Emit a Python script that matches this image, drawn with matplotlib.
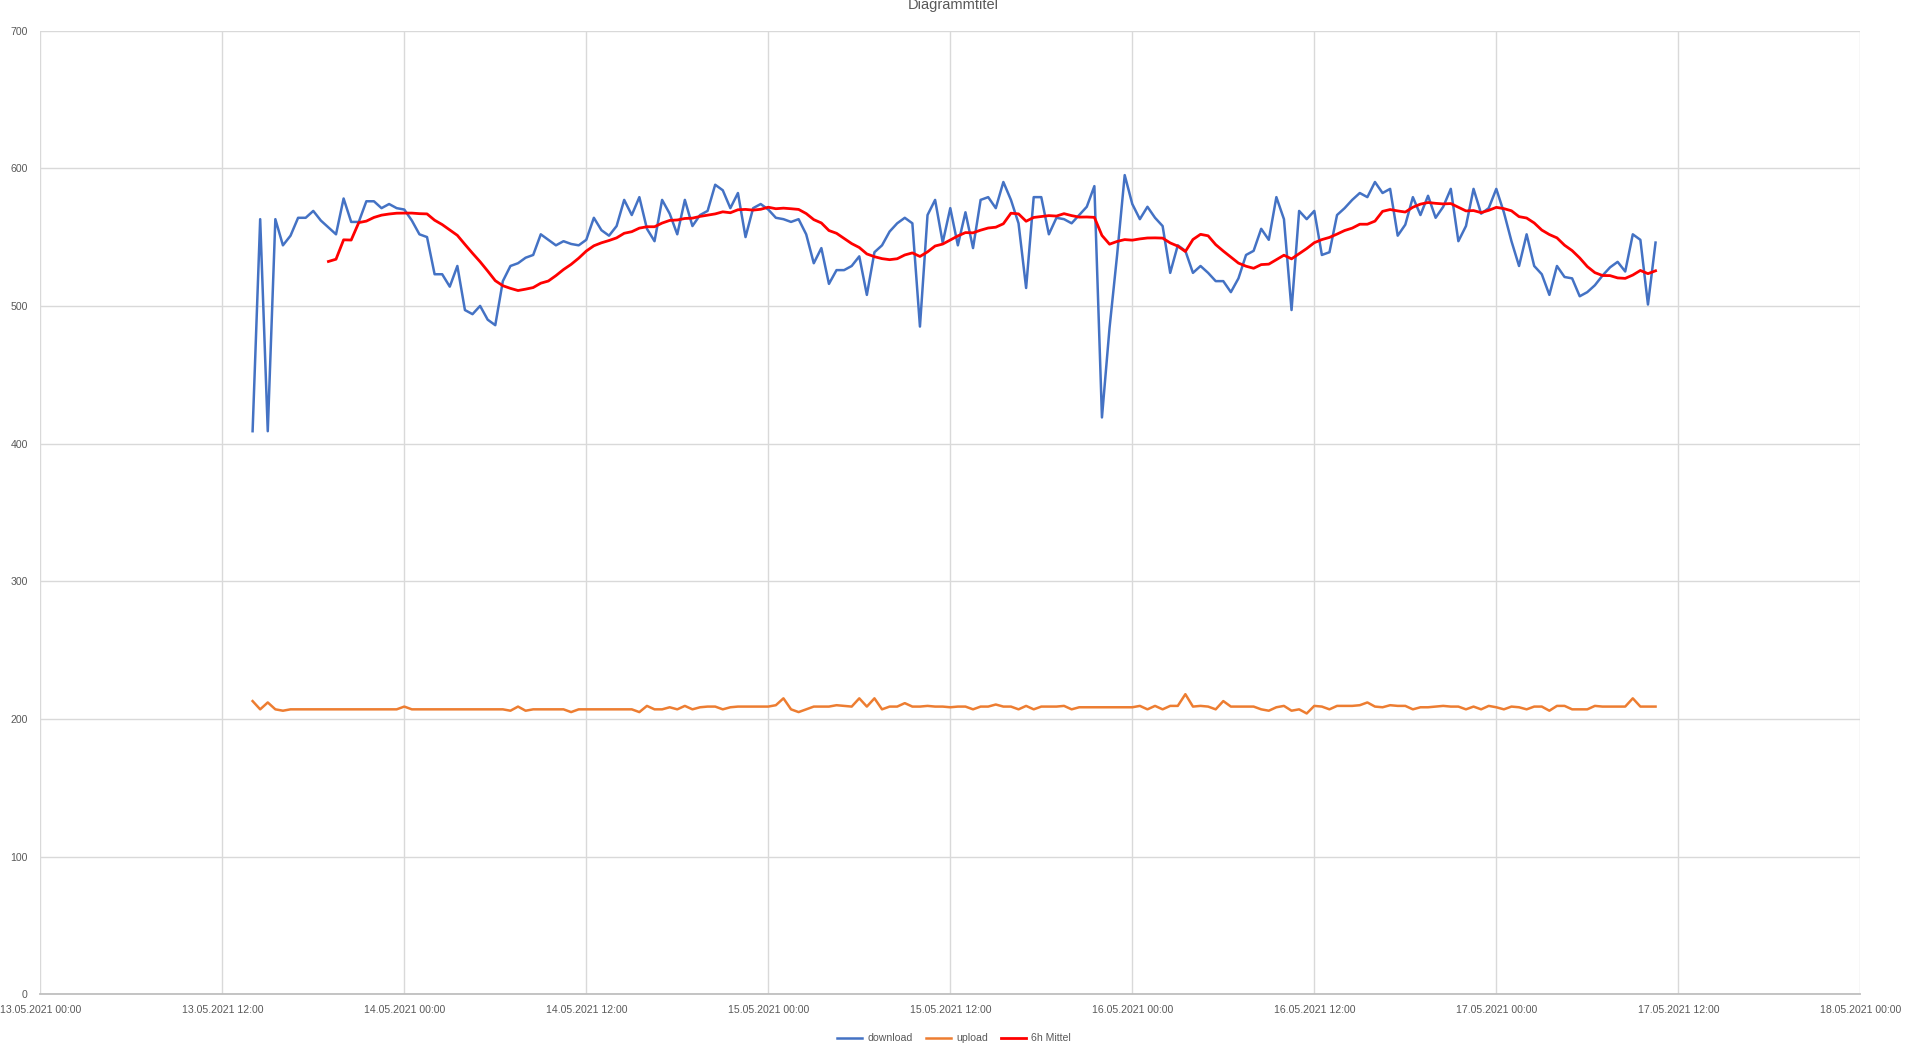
import numpy as np
import pandas as pd
import matplotlib
matplotlib.use("Agg")
import matplotlib.pyplot as plt
import matplotlib.dates as mdates

plt.rcParams['font.family'] = ['Liberation Sans', 'DejaVu Sans']

# speedtest results, one every 30 minutes
start_time = "2021-05-13 14:00"

download = [
    409, 563, 409, 563, 544, 551, 564, 564, 569, 562,
    557, 552, 578, 561, 561, 576, 576, 571, 574, 571,
    570, 562, 552, 550, 523, 523, 514, 529, 497, 494,
    500, 490, 486, 518, 529, 531, 535, 537, 552, 548,
    544, 547, 545, 544, 548, 564, 555, 551, 558, 577,
    566, 579, 556, 547, 577, 567, 552, 577, 558, 566,
    569, 588, 584, 571, 582, 550, 571, 574, 570, 564,
    563, 561, 563, 552, 531, 542, 516, 526, 526, 529,
    536, 508, 539, 544, 554, 560, 564, 560, 485, 566,
    577, 546, 571, 544, 568, 542, 577, 579, 571, 590,
    577, 560, 513, 579, 579, 552, 564, 563, 560, 566,
    572, 587, 419, 484, 537, 595, 574, 563, 572, 564,
    558, 524, 544, 540, 524, 529, 524, 518, 518, 510,
    520, 537, 540, 556, 548, 579, 563, 497, 569, 563,
    569, 537, 539, 566, 571, 577, 582, 579, 590, 582,
    585, 551, 559, 579, 566, 580, 564, 572, 585, 547,
    558, 585, 567, 571, 585, 568, 547, 529, 552, 529,
    523, 508, 529, 521, 520, 507, 510, 515, 522, 528,
    532, 525, 552, 548, 501, 546,
]

upload = [
    213, 207, 212, 207, 206, 207, 207, 207, 207, 207,
    207, 207, 207, 207, 207, 207, 207, 207, 207, 207,
    209, 207, 207, 207, 207, 207, 207, 207, 207, 207,
    207, 207, 207, 207, 206, 209, 206, 207, 207, 207,
    207, 207, 205, 207, 207, 207, 207, 207, 207, 207,
    207, 205, 209.5, 207, 207, 208.5, 207, 209.5, 207, 208.5,
    209, 209, 207, 208.5, 209, 209, 209, 209, 209, 210,
    215, 207, 205, 207, 209, 209, 209, 210, 209.5, 209,
    215, 209, 215, 207, 209, 209, 211.5, 209, 209, 209.5,
    209, 209, 208.5, 209, 209, 207, 209, 209, 210.5, 209,
    209, 207, 209.5, 207, 209, 209, 209, 209.5, 207, 208.5,
    208.5, 208.5, 208.5, 208.5, 208.5, 208.5, 208.5, 209.5, 207, 209.5,
    207, 209.5, 209.5, 218, 209, 209.5, 209, 207, 213, 209,
    209, 209, 209, 207, 206, 208.5, 209.5, 206, 207, 204,
    209.5, 209, 207, 209.5, 209.5, 209.5, 210, 212, 209, 208.5,
    210, 209.5, 209.5, 207, 208.5, 208.5, 209, 209.5, 209, 209,
    207, 209, 207, 209.5, 208.5, 207, 209, 208.5, 207, 209,
    209, 206, 209.5, 209.5, 207, 207, 207, 209.5, 209, 209,
    209, 209, 215, 209, 209, 209,
]

tick_labels_fmt = "%d.%m.%Y %H:%M"
x_start = pd.Timestamp("2021-05-13 00:00")
x_end = pd.Timestamp("2021-05-18 00:00")

times = pd.date_range(start_time, periods=len(download), freq="30min")
df = pd.DataFrame({"download": download, "upload": upload}, index=times)
# 6h Mittel = moving average over the last 12 measurements
df["mittel"] = df["download"].rolling(12, min_periods=11).mean()

fig = plt.figure(figsize=(19.08, 10.53), dpi=100)
ax = fig.add_axes([0.0211, 0.0557, 0.9539, 0.9153])

ax.plot(df.index, df["download"], color="#4472C4", lw=1.8, label="download")
ax.plot(df.index, df["upload"], color="#ED7D31", lw=1.8, label="upload")
ax.plot(df.index, df["mittel"], color="#FF0000", lw=2.0, label="6h Mittel")

ax.set_xlim(x_start, x_end)
ax.set_ylim(0, 700)
ax.set_yticks(range(0, 701, 100))
ax.xaxis.set_major_locator(mdates.HourLocator(byhour=[0, 12]))
ax.xaxis.set_major_formatter(mdates.DateFormatter(tick_labels_fmt))

ax.grid(True, color="#d9d9d9", lw=1.0)
ax.set_axisbelow(True)
for side in ["top", "right", "left"]:
    ax.spines[side].set_visible(False)
ax.spines["bottom"].set_color("#bfbfbf")
ax.spines["bottom"].set_linewidth(1.3)
ax.tick_params(length=0, labelsize=7.6, colors="#595959")
ax.tick_params(axis="x", pad=8)
ax.tick_params(axis="y", pad=9)

fig.text(0.4994, 1 - 5 / 1053, "Diagrammtitel", ha="center", va="center",
         fontsize=10.5, color="#595959")

fig.legend(loc="center", bbox_to_anchor=(0.5, 0.0138), ncol=3, frameon=False,
           fontsize=7.6, handlelength=2.4, columnspacing=1.2, handletextpad=0.5,
           labelcolor="#595959")

fig.savefig("out.png", dpi=100)
